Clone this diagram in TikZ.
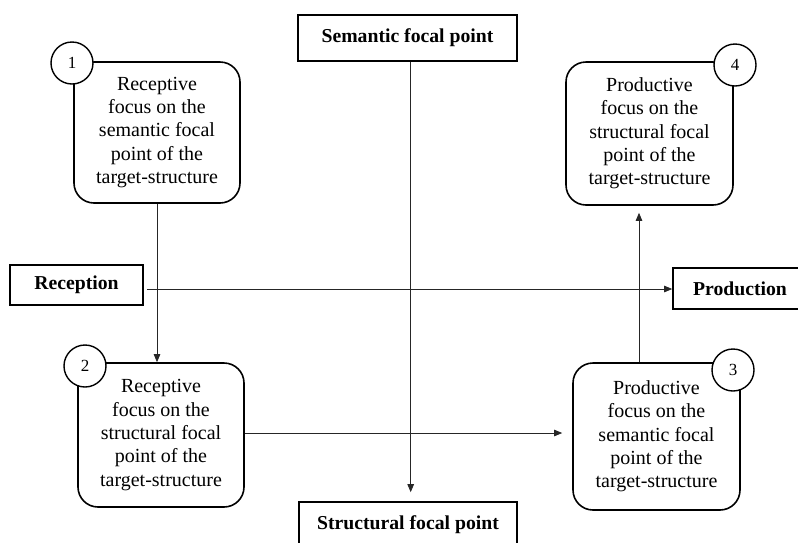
\documentclass[tikz,border=0pt]{standalone}
\usepackage{fontspec}
\setmainfont{Liberation Serif}
\usetikzlibrary{arrows.meta}
\begin{document}
\begin{tikzpicture}[x=1pt,y=-1pt,
  rbox/.style={draw,line width=1.6pt,rounded corners=20pt,align=center,
    font=\fontsize{20}{23.3}\selectfont,inner sep=0pt},
  lbox/.style={draw,line width=1.6pt,inner sep=0pt,
    font=\fontsize{19.7}{23.3}\selectfont\bfseries},
  num/.style={draw,circle,line width=1.4pt,fill=white,minimum size=42pt,inner sep=0pt,
    font=\fontsize{17}{20}\selectfont},
  conn/.style={line width=0.8pt,draw=black!85},
  arr/.style={conn,-{Triangle[length=8pt,width=6.5pt]}}]
\useasboundingbox (0,0) rectangle (798,542);
\begin{scope}
\clip (0,0) rectangle (798,542);
% label boxes
\node[lbox,minimum width=219pt,minimum height=46pt] (sem) at (407.5,38) {Semantic focal point};
\node[lbox,minimum width=218pt,minimum height=46pt] (str) at (408,525) {Structural focal point};
\node[lbox,minimum width=133pt,minimum height=40pt] (rec) at (76.5,285) {Reception};
\node[lbox,minimum width=134pt,minimum height=41pt] (pro) at (740,288.5) {Production};
% rounded boxes
\node[rbox,minimum width=166pt,minimum height=141pt] (b1) at (157,132.5)
  {Receptive\\focus on the\\semantic focal\\point of the\\target-structure};
\node[rbox,minimum width=166pt,minimum height=144pt] (b2) at (161,435)
  {Receptive\\focus on the\\structural focal\\point of the\\target-structure};
\node[rbox,minimum width=167pt,minimum height=147pt] (b3) at (656.5,436.5)
  {Productive\\focus on the\\semantic focal\\point of the\\target-structure};
\node[rbox,minimum width=167pt,minimum height=143pt] (b4) at (649.5,133.5)
  {Productive\\focus on the\\structural focal\\point of the\\target-structure};
% guide coordinates
\coordinate (cross) at (410.7,289);
\coordinate (colA) at (157,0);
\coordinate (colB) at (639,0);
\coordinate (rowB) at (0,433);
% connectors
\draw[arr,shorten >=9pt] (sem.south -| cross) -- (str.north -| cross);
\draw[arr] ([xshift=3pt]rec.east |- cross) -- (pro.west |- cross);
\draw[arr] (b1.south -| colA) -- (b2.north -| colA);
\draw[arr,shorten >=10pt] (b2.east |- rowB) -- (b3.west |- rowB);
\draw[arr,shorten >=7pt] (b3.north -| colB) -- (b4.south -| colB);
% numbers
\node[num] (n1) at (72,63) {1};
\node[num] (n2) at (85,366) {2};
\node[num] (n3) at (733,370) {3};
\node[num] (n4) at (735,65) {4};
\end{scope}
\end{tikzpicture}
\end{document}
